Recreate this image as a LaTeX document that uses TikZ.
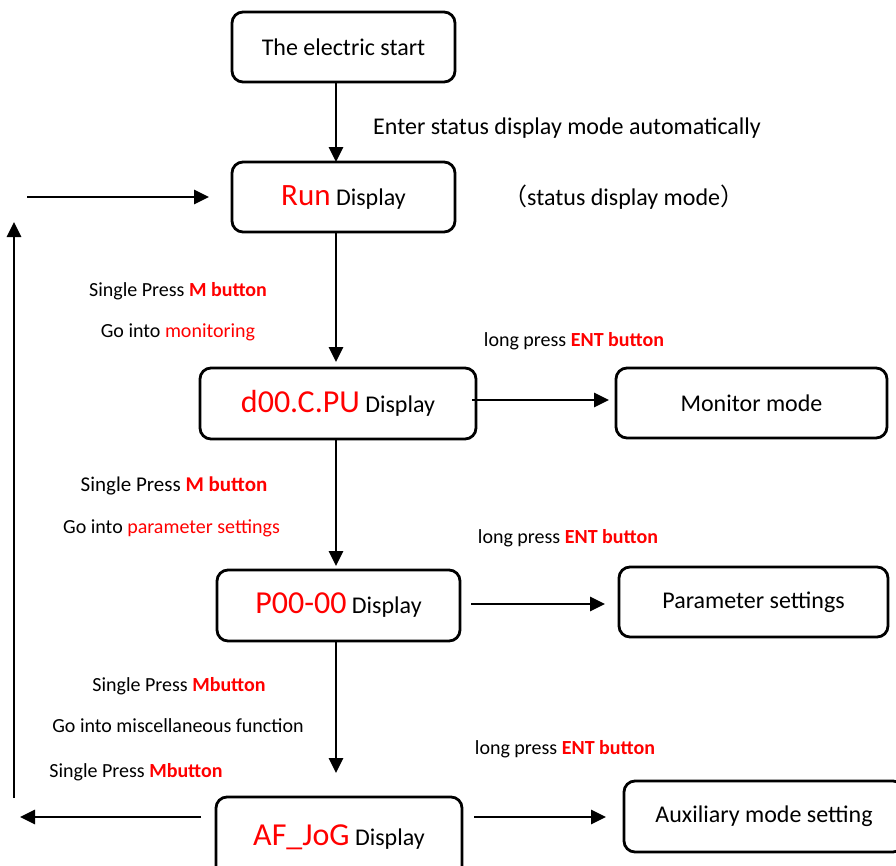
\documentclass[tikz,border=0pt]{standalone}
\usepackage{fontspec}
\setmainfont{Carlito}
\newfontfamily\cjkfont{Noto Sans CJK SC}
\usetikzlibrary{arrows.meta}
\definecolor{myred}{RGB}{255,0,0}
\begin{document}
\begin{tikzpicture}[x=1pt,y=-1pt,
  box/.style={draw,line width=2.8pt,rounded corners=11pt,minimum height=70pt,inner sep=0pt,font=\fontsize{24}{28}\selectfont},
  arr/.style={line width=2.8pt,-{Triangle[length=15pt,width=14pt]}},
  lbl/.style={font=\fontsize{21}{24}\selectfont,inner sep=0pt,anchor=base},
  lbls/.style={font=\fontsize{20}{23}\selectfont,inner sep=0pt,anchor=base},
  redbig/.style={},
]
\useasboundingbox (0,0) rectangle (896,865);
\begin{scope}
\clip (0,0) rectangle (896,865);
\node[box,minimum width=223pt] (start) at (343.5,47) {The electric start};
\node[box,minimum width=223pt] (run) at (343.5,197) {{\color{myred}\fontsize{31}{34}\selectfont Run} Display};
\node[box,minimum width=276pt,minimum height=71pt] (d00) at (338,403.5) {{\color{myred}\fontsize{32}{34}\selectfont d00.C.PU} Display};
\node[box,minimum width=271pt] (mon) at (751.5,403) {Monitor mode};
\node[box,minimum width=243pt,minimum height=71pt] (p00) at (338.5,605.5) {{\color{myred}\fontsize{32}{34}\selectfont P00-00} Display};
\node[box,minimum width=269pt] (par) at (753.5,602) {Parameter settings};
\node[box,minimum width=246pt,minimum height=80pt] (af) at (339,837) {{\color{myred}\fontsize{32}{34}\selectfont AF\_JoG} Display};
\node[box,minimum width=280pt,minimum height=71pt] (aux) at (764,816.5) {Auxiliary mode setting};
\end{scope}
\coordinate (lt) at (27,197);
\coordinate (lb) at (14,798);
\coordinate (ltop) at (14,222);
\coordinate (al) at (20,817);
\draw[arr] (336,82) -- (336,162);
\draw[arr] (336,232) -- (336,362);
\draw[arr] (336,439) -- (336,566);
\draw[arr] (336,641) -- (336,773);
\draw[arr] (472,400) -- (609,400);
\draw[arr] (471,604) -- (605,604);
\draw[arr] (474,817) -- (606,817);
\draw[arr] (201,817) -- (al);
\draw[arr] (lb) -- (ltop);
\draw[arr] (lt) -- (209,197);
\node[font=\fontsize{24}{28}\selectfont,anchor=base west,inner sep=0pt] (t1) at (373,134) {Enter status display mode automatically};
\node[font=\fontsize{24}{28}\selectfont,anchor=base west,inner sep=0pt] (t2) at (503,205) {{\cjkfont （}status display mode{\cjkfont ）}};
\node[lbls] (s1) at (178,296) {Single Press {\color{myred}\bfseries M button}};
\node[lbls] (g1) at (178,337) {Go into {\color{myred}monitoring}};
\node[lbls] (e1) at (574,346) {long press {\color{myred}\bfseries ENT button}};
\node[lbl] (s2) at (174,491) {Single Press {\color{myred}\bfseries M button}};
\node[lbls] (g2) at (171.5,533) {Go into {\color{myred}parameter settings}};
\node[lbls] (e2) at (568,543) {long press {\color{myred}\bfseries ENT button}};
\node[lbls] (s3) at (179,691) {Single Press {\color{myred}\bfseries Mbutton}};
\node[lbls] (g3) at (178,732) {Go into miscellaneous function};
\node[lbls] (e3) at (565,754) {long press {\color{myred}\bfseries ENT button}};
\node[lbls] (s4) at (136,777) {Single Press {\color{myred}\bfseries Mbutton}};
\end{tikzpicture}
\end{document}
